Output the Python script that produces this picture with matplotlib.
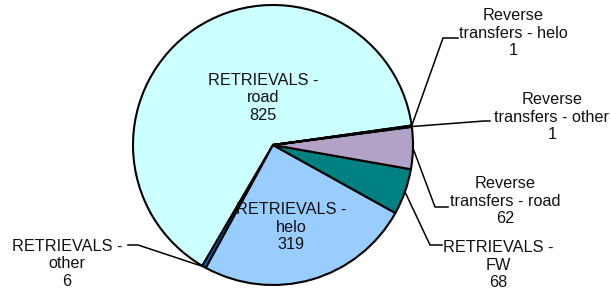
import numpy as np
import matplotlib
matplotlib.use('Agg')
import matplotlib.pyplot as plt

labels = ['RETRIEVALS -\nroad', 'RETRIEVALS -\nother', 'RETRIEVALS -\nhelo', 'RETRIEVALS -\nFW',
          'Reverse\ntransfers - road', 'Reverse\ntransfers - other', 'Reverse\ntransfers - helo']
values = [825, 6, 319, 68, 62, 1, 1]
colors = ['#CCFFFF', '#0066CC', '#99CCFF', '#008080', '#B3A2C7', '#CCCCFF', '#FFFFCC']

W, H = 611, 289
fig = plt.figure(figsize=(W / 100, H / 100), dpi=100)
ax = fig.add_axes([0, 0, 1, 1])

cx, cy, r = 273, H - 145, 140
wedges, _ = ax.pie(values, colors=colors, startangle=8, counterclock=True,
                   center=(cx, cy), radius=r, frame=True,
                   wedgeprops=dict(edgecolor='black', linewidth=1.5))
ax.set_xlim(0, W)
ax.set_ylim(0, H)
ax.set_aspect('equal')
ax.axis('off')

font = dict(family='Liberation Sans', fontsize=11.7, color='#111111', ha='center', va='center',
            linespacing=1.2)

# inside labels (label position in image pixels)
inside = {0: (263, 98), 2: (291, 227)}
for i, (x, y) in inside.items():
    ax.text(x, H - y, labels[i] + '\n' + str(values[i]), **font)

# outside labels: text center, elbow, end of leader
outside = {
    6: ((513, 33), (443, 38), (458, 38)),
    5: ((552, 117), (484, 121), (490, 121)),
    4: ((505, 201), (435, 207), (448, 207)),
    3: ((498, 265), (430, 245), (442, 245)),
    1: ((67, 264), (138, 245), (128, 245)),
}
for i, (txt, elbow, end) in outside.items():
    w = wedges[i]
    a = np.deg2rad((w.theta1 + w.theta2) / 2)
    px, py = cx + r * np.cos(a), cy + r * np.sin(a)
    ax.plot([px, elbow[0], end[0]], [py, H - elbow[1], H - end[1]], color='black', lw=1.1)
    ax.text(txt[0], H - txt[1], labels[i] + '\n' + str(values[i]), **font)

fig.savefig('out.png', dpi=100)
